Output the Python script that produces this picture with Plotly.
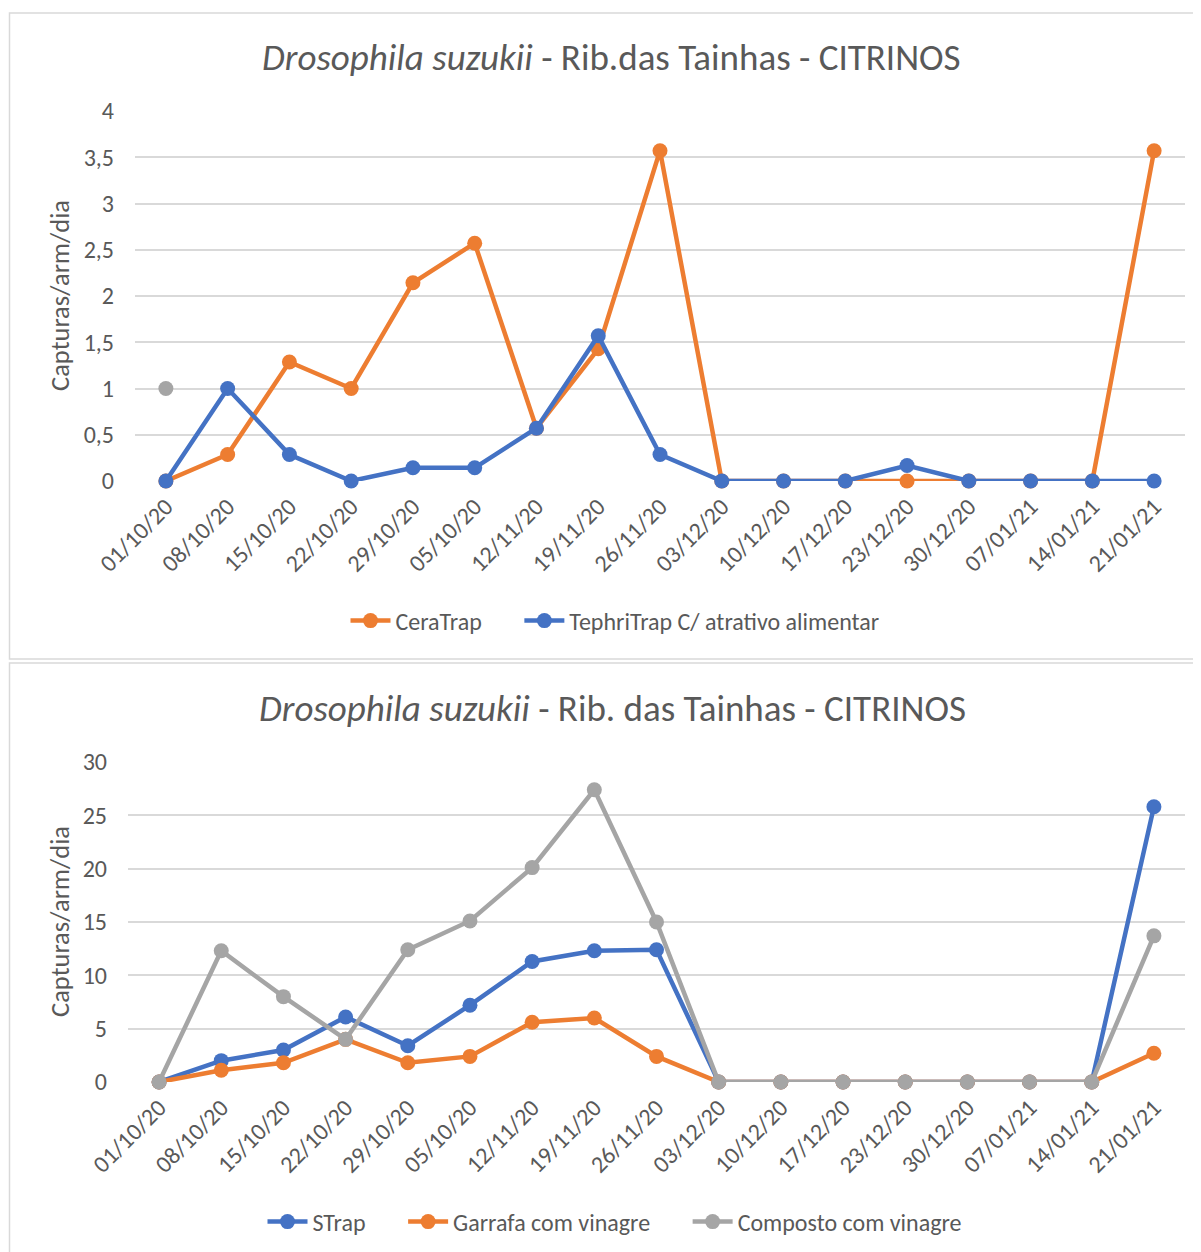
import plotly.graph_objects as go

W, H = 1201, 1252
OFF = 8  # page body margin

dates = ["01/10/20", "08/10/20", "15/10/20", "22/10/20", "29/10/20", "05/10/20",
         "12/11/20", "19/11/20", "26/11/20", "03/12/20", "10/12/20", "17/12/20",
         "23/12/20", "30/12/20", "07/01/21", "14/01/21", "21/01/21"]

# Top chart
ceratrap = [0, 0.286, 1.286, 1.0, 2.143, 2.571, 0.571, 1.429, 3.571, 0, 0, 0, 0, 0, 0, 0, 3.571]
tephritrap = [0, 1.0, 0.286, 0, 0.143, 0.143, 0.571, 1.571, 0.286, 0, 0, 0, 0.167, 0, 0, 0, 0]
extra_gray = [1.0] + [None] * 16

# Bottom chart
strap = [0, 2.0, 3.0, 6.1, 3.4, 7.2, 11.3, 12.3, 12.4, 0, 0, 0, 0, 0, 0, 0, 25.8]
garrafa = [0, 1.1, 1.8, 4.0, 1.8, 2.4, 5.6, 6.0, 2.4, 0, 0, 0, 0, 0, 0, 0, 2.7]
composto = [0, 12.3, 8.0, 4.0, 12.4, 15.1, 20.1, 27.4, 15.0, 0, 0, 0, 0, 0, 0, 0, 13.7]

ORANGE = "#ED7D31"
BLUE = "#4472C4"
GRAY = "#A5A5A5"
TXT = "#595959"
GRID = "#D9D9D9"
FONT = "Carlito, Lato, sans-serif"
GAP = "\u00a0" * 6

def px(x):
    return (x - OFF) / W

def py(y):
    return 1 - (y - OFF) / H

fig = go.Figure()

def add(name, y, color, xa, ya, legend, show=True):
    fig.add_trace(go.Scatter(
        x=dates, y=y, name=name, mode="lines+markers",
        line=dict(color=color, width=4.5),
        marker=dict(color=color, size=15),
        xaxis=xa, yaxis=ya, legend=legend, showlegend=show,
        cliponaxis=False, connectgaps=False,
    ))

add("gray", extra_gray, GRAY, "x", "y", "legend", show=False)
add("CeraTrap" + GAP, ceratrap, ORANGE, "x", "y", "legend")
add("TephriTrap C/ atrativo alimentar", tephritrap, BLUE, "x", "y", "legend")

add("STrap" + GAP, strap, BLUE, "x2", "y2", "legend2")
add("Garrafa com vinagre" + GAP, garrafa, ORANGE, "x2", "y2", "legend2")
add("Composto com vinagre", composto, GRAY, "x2", "y2", "legend2")

xcommon = dict(type="category", range=[-0.5, 16.5], tickangle=-45, showgrid=False,
               showline=False, zeroline=False, ticks="", automargin=False,
               tickfont=dict(family=FONT, size=24, color=TXT), ticklabelstandoff=6,
               categoryorder="array", categoryarray=dates)
ycommon = dict(showgrid=True, gridcolor=GRID, gridwidth=1.5, zeroline=False, showline=False,
               ticks="", automargin=False,
               tickfont=dict(family=FONT, size=24, color=TXT), ticklabelstandoff=20)

fig.update_layout(
    template="none",
    width=W, height=H,
    margin=dict(l=0, r=0, t=0, b=0, pad=0, autoexpand=False),
    paper_bgcolor="white", plot_bgcolor="white",
    separators=",.",
    xaxis=dict(domain=[px(135), px(1185)], anchor="y", **xcommon),
    yaxis=dict(domain=[py(481), py(111)], anchor="x", range=[0, 4], dtick=0.5, **ycommon),
    xaxis2=dict(domain=[px(128), px(1185)], anchor="y2", **xcommon),
    yaxis2=dict(domain=[py(1082), py(762)], anchor="x2", range=[0, 30], dtick=5, **ycommon),
    legend=dict(orientation="h", x=px(615), y=py(621), xanchor="center", yanchor="middle",
                font=dict(family=FONT, size=24, color=TXT), bgcolor="rgba(0,0,0,0)",
                itemwidth=40, traceorder="normal"),
    legend2=dict(orientation="h", x=px(615), y=py(1222), xanchor="center", yanchor="middle",
                 font=dict(family=FONT, size=24, color=TXT), bgcolor="rgba(0,0,0,0)",
                 itemwidth=40, traceorder="normal"),
    shapes=[
        dict(type="rect", xref="paper", yref="paper", x0=px(9.5), x1=px(1215),
             y0=py(659), y1=py(13), line=dict(color=GRID, width=1.5), layer="below"),
        dict(type="rect", xref="paper", yref="paper", x0=px(9.5), x1=px(1215),
             y0=py(1270), y1=py(663), line=dict(color=GRID, width=1.5), layer="below"),
    ],
    annotations=[
        dict(text="<i>Drosophila suzukii</i> - Rib.das Tainhas - CITRINOS",
             xref="paper", yref="paper", x=px(611), y=py(57), showarrow=False,
             xanchor="center", yanchor="middle",
             font=dict(family=FONT, size=37, color=TXT)),
        dict(text="<i>Drosophila suzukii</i> - Rib. das Tainhas - CITRINOS",
             xref="paper", yref="paper", x=px(612), y=py(708), showarrow=False,
             xanchor="center", yanchor="middle",
             font=dict(family=FONT, size=37, color=TXT)),
        dict(text="Capturas/arm/dia", xref="paper", yref="paper", x=px(60), y=py(296),
             showarrow=False, textangle=-90, xanchor="center", yanchor="middle",
             font=dict(family=FONT, size=26.5, color=TXT)),
        dict(text="Capturas/arm/dia", xref="paper", yref="paper", x=px(60), y=py(922),
             showarrow=False, textangle=-90, xanchor="center", yanchor="middle",
             font=dict(family=FONT, size=26.5, color=TXT)),
    ],
)

fig.write_html("out.html")
